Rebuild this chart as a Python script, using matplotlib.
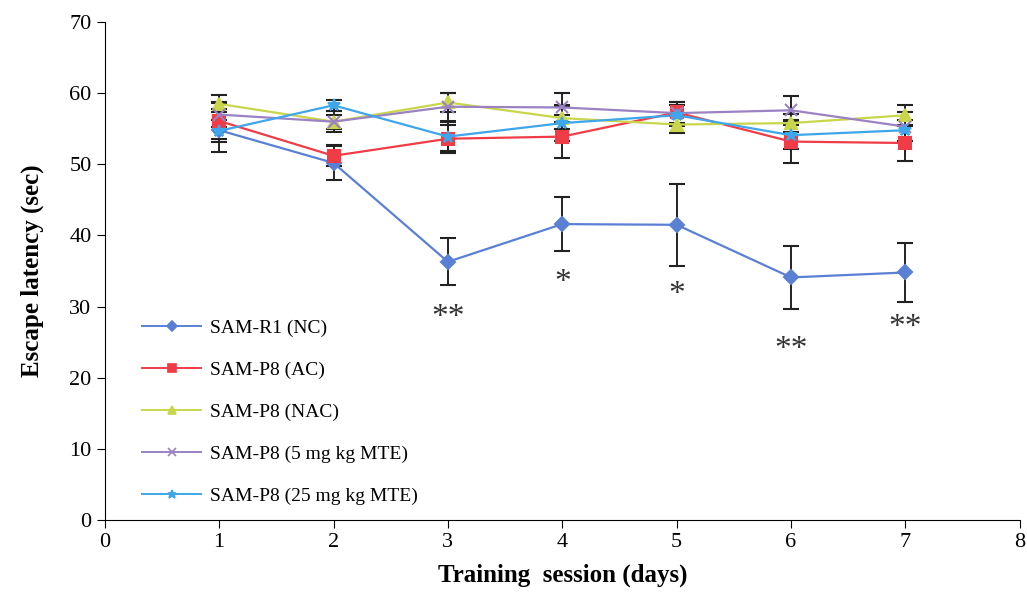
import matplotlib.pyplot as plt
from matplotlib.lines import Line2D

days = [1, 2, 3, 4, 5, 6, 7]

nc = [54.8, 50.2, 36.3, 41.6, 41.5, 34.1, 34.8]
nc_err = [3.0, 2.4, 3.3, 3.8, 5.8, 4.4, 4.2]
ac = [56.1, 51.2, 53.6, 53.9, 57.3, 53.2, 53.0]
ac_err = [2.5, 1.5, 2.0, 3.0, 1.5, 3.0, 2.5]
nac = [58.5, 56.0, 58.7, 56.5, 55.6, 55.8, 56.9]
nac_err = [1.2, 1.0, 1.3, 1.5, 1.2, 1.3, 1.5]
mte5 = [57.0, 56.0, 58.1, 58.0, 57.2, 57.6, 55.3]
mte5_err = [1.8, 1.5, 2.0, 2.0, 1.5, 2.0, 2.0]
mte25 = [54.7, 58.3, 53.9, 55.8, 56.9, 54.1, 54.8]
mte25_err = [1.5, 0.8, 2.0, 2.5, 1.5, 2.0, 1.5]

labels = ['SAM-R1 (NC)', 'SAM-P8 (AC)', 'SAM-P8 (NAC)',
          'SAM-P8 (5 mg kg MTE)', 'SAM-P8 (25 mg kg MTE)']

# significance marks for the NC group
star_days = [3, 4, 5, 6, 7]
star_y = [28.4, 33.3, 31.6, 23.9, 27.0]
star_txt = ['**', '*', '*', '**', '**']

plt.rcParams['font.family'] = ['Liberation Serif', 'DejaVu Serif']

fig = plt.figure(figsize=(10.27, 5.97), dpi=100)
ax = fig.add_axes([0.102, 0.129, 0.891, 0.834])

series = [
    (nc, nc_err, '#5a80d6', 'D', 7),
    (ac, ac_err, '#f03c46', 's', 9),
    (nac, nac_err, '#c9d64c', '^', 8),
    (mte5, mte5_err, '#9b82c4', 'x', 8),
    (mte25, mte25_err, '#3ea6ea', '*', 9),
]

handles = []
for (vals, err, col, mk, ms), lab in zip(series, labels):
    ax.errorbar(days, vals, yerr=err, color=col, marker=mk, markersize=ms,
                linewidth=1.6, ecolor='#222222', elinewidth=1.4, capsize=6,
                capthick=1.4, markeredgewidth=1.5)
    handles.append(Line2D([], [], color=col, marker=mk, markersize=ms * 0.7,
                          linewidth=1.4, markeredgewidth=1.2, label=lab))

for d, y, t in zip(star_days, star_y, star_txt):
    ax.text(d, y, t, ha='center', va='center', fontsize=24, color='#333333')

ax.set_xlim(0, 8)
ax.set_ylim(0, 70)
ax.set_xticks(range(0, 9))
ax.set_yticks(range(0, 71, 10))
ax.tick_params(labelsize=16, direction='out', length=6)
ax.spines['top'].set_visible(False)
ax.spines['right'].set_visible(False)

ax.set_xlabel('Training  session (days)', fontsize=18, fontweight='bold', labelpad=8)
ax.set_ylabel('Escape latency (sec)', fontsize=18, fontweight='bold', labelpad=18)

ax.legend(handles=handles, loc='lower left', bbox_to_anchor=(0.022, -0.005),
          frameon=False, fontsize=14, handlelength=3.0, handletextpad=0.5,
          labelspacing=1.25)

fig.savefig('out.png', dpi=100)
